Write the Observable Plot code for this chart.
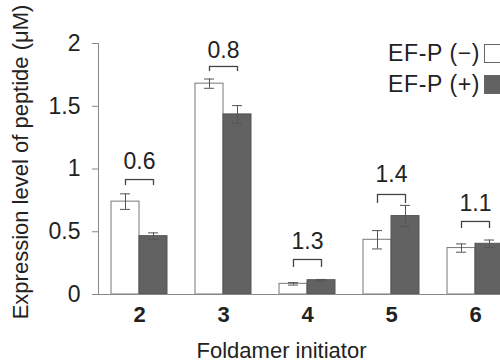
<!DOCTYPE html>
<html>
<head>
<meta charset="utf-8">
<script src="https://cdn.jsdelivr.net/npm/d3@7"></script>
<script src="https://cdn.jsdelivr.net/npm/@observablehq/plot@0.6"></script>
<style>
  html, body { margin: 0; padding: 0; background: #fff; }
  #wrap { position: relative; width: 500px; height: 363px; overflow: hidden; font-family: "Liberation Sans", Arial, sans-serif; }
  #legend { position: absolute; left: 0; top: 41px; width: 500px; color: #222; font-size: 23px; letter-spacing: 0.6px; }
  .row { position: absolute; right: -4px; display: flex; align-items: center; height: 24px; white-space: nowrap; }
  .sw { width: 20px; height: 19px; margin-left: 4px; box-sizing: border-box; border: 1px solid #666; }
</style>
</head>
<body>
<div id="wrap"></div>
<script>
const groups = ["2", "3", "4", "5", "6"];
const minusVals = [0.74, 1.68, 0.085, 0.436, 0.37];
const minusErr = [0.062, 0.037, 0.01, 0.073, 0.033];
const plusVals = [0.465, 1.435, 0.114, 0.625, 0.404];
const plusErr = [0.026, 0.07, 0.006, 0.085, 0.03];
const ratioLabels = ["0.6", "0.8", "1.3", "1.4", "1.1"];
const bracketTop = [0.916, 1.817, 0.279, 0.797, 0.582];
const bracketLeg = [0.868, 1.777, 0.215, 0.725, 0.526];
const ratioY = [1.06, 1.944, 0.418, 0.955, 0.725];
const yTicks = [0, 0.5, 1, 1.5, 2];
const seriesNames = ["EF-P (\u2212)", "EF-P (+)"];
const yLabel = "Expression level of peptide (\u03bcM)";
const xLabel = "Foldamer initiator";

const minus = groups.map((g, i) => ({group: g, value: minusVals[i], lo: minusVals[i] - minusErr[i], hi: minusVals[i] + minusErr[i]}));
const plus = groups.map((g, i) => ({group: g, value: plusVals[i], lo: plusVals[i] - plusErr[i], hi: plusVals[i] + plusErr[i]}));
const brackets = groups.map((g, i) => ({group: g, top: bracketTop[i], leg: bracketLeg[i], label: ratioLabels[i], ly: ratioY[i]}));

const half = 14;
const errColor = "#555";
const axisColor = "#888";
const font = "Liberation Sans, Arial, sans-serif";

const chart = Plot.plot({
  width: 500,
  height: 363,
  marginLeft: 98,
  marginRight: 0,
  marginTop: 43,
  marginBottom: 69,
  style: {fontFamily: font, color: "#222", background: "#fff"},
  x: {domain: groups, range: [97, 517], paddingInner: 1/3, paddingOuter: 1/6, axis: null},
  y: {domain: [0, 2], axis: null},
  marks: [
    Plot.barY(minus, {x: "group", y: "value", insetRight: 2 * half, fill: "#fff", stroke: "#777", strokeWidth: 1}),
    Plot.barY(plus, {x: "group", y: "value", insetLeft: 2 * half, fill: "#626262", stroke: "#555", strokeWidth: 1}),
    // error bars
    Plot.ruleX(minus, {x: "group", y1: "lo", y2: "hi", dx: -half, stroke: errColor}),
    Plot.tickY(minus, {x: "group", y: "lo", insetLeft: half - 5, insetRight: 3 * half - 5, stroke: errColor}),
    Plot.tickY(minus, {x: "group", y: "hi", insetLeft: half - 5, insetRight: 3 * half - 5, stroke: errColor}),
    Plot.ruleX(plus, {x: "group", y1: "lo", y2: "hi", dx: half, stroke: errColor}),
    Plot.tickY(plus, {x: "group", y: "lo", insetLeft: 3 * half - 5, insetRight: half - 5, stroke: errColor}),
    Plot.tickY(plus, {x: "group", y: "hi", insetLeft: 3 * half - 5, insetRight: half - 5, stroke: errColor}),
    // brackets
    Plot.tickY(brackets, {x: "group", y: "top", insetLeft: half, insetRight: half, stroke: "#444", strokeWidth: 1.3}),
    Plot.ruleX(brackets, {x: "group", y1: "leg", y2: "top", dx: -half, stroke: "#444", strokeWidth: 1.3}),
    Plot.ruleX(brackets, {x: "group", y1: "leg", y2: "top", dx: half, stroke: "#444", strokeWidth: 1.3}),
    Plot.text(brackets, {x: "group", y: "ly", text: "label", fontSize: 23, fill: "#222"}),
    // axes
    Plot.axisY({ticks: yTicks, tickFormat: d => String(d), tickSize: 6, tickPadding: 12, fontSize: 23, stroke: axisColor, fill: "#222", label: null}),
    Plot.axisX({tickSize: 0, tickPadding: 12, fontSize: 22, fontWeight: "bold", fill: "#222", label: null}),
    Plot.frame({anchor: "left", stroke: axisColor}),
    Plot.ruleY([0], {stroke: axisColor}),
    Plot.text([yLabel], {frameAnchor: "left", textAnchor: "middle", lineAnchor: "middle", text: d => d, rotate: -90, dx: -78, dy: -7, fontSize: 22, fill: "#222"}),
    Plot.text([xLabel], {frameAnchor: "bottom", textAnchor: "middle", text: d => d, dx: -18, dy: 63, fontSize: 22, fill: "#222"})
  ]
});

const wrap = document.getElementById("wrap");
wrap.appendChild(chart);
const legend = document.createElement("div");
legend.id = "legend";
const fills = ["#fff", "#626262"];
seriesNames.forEach((name, i) => {
  const row = document.createElement("div");
  row.className = "row";
  row.style.top = (i * 31) + "px";
  const t = document.createElement("span");
  t.textContent = name;
  const sw = document.createElement("span");
  sw.className = "sw";
  sw.style.background = fills[i];
  row.appendChild(t);
  row.appendChild(sw);
  legend.appendChild(row);
});
wrap.appendChild(legend);
</script>
</body>
</html>
